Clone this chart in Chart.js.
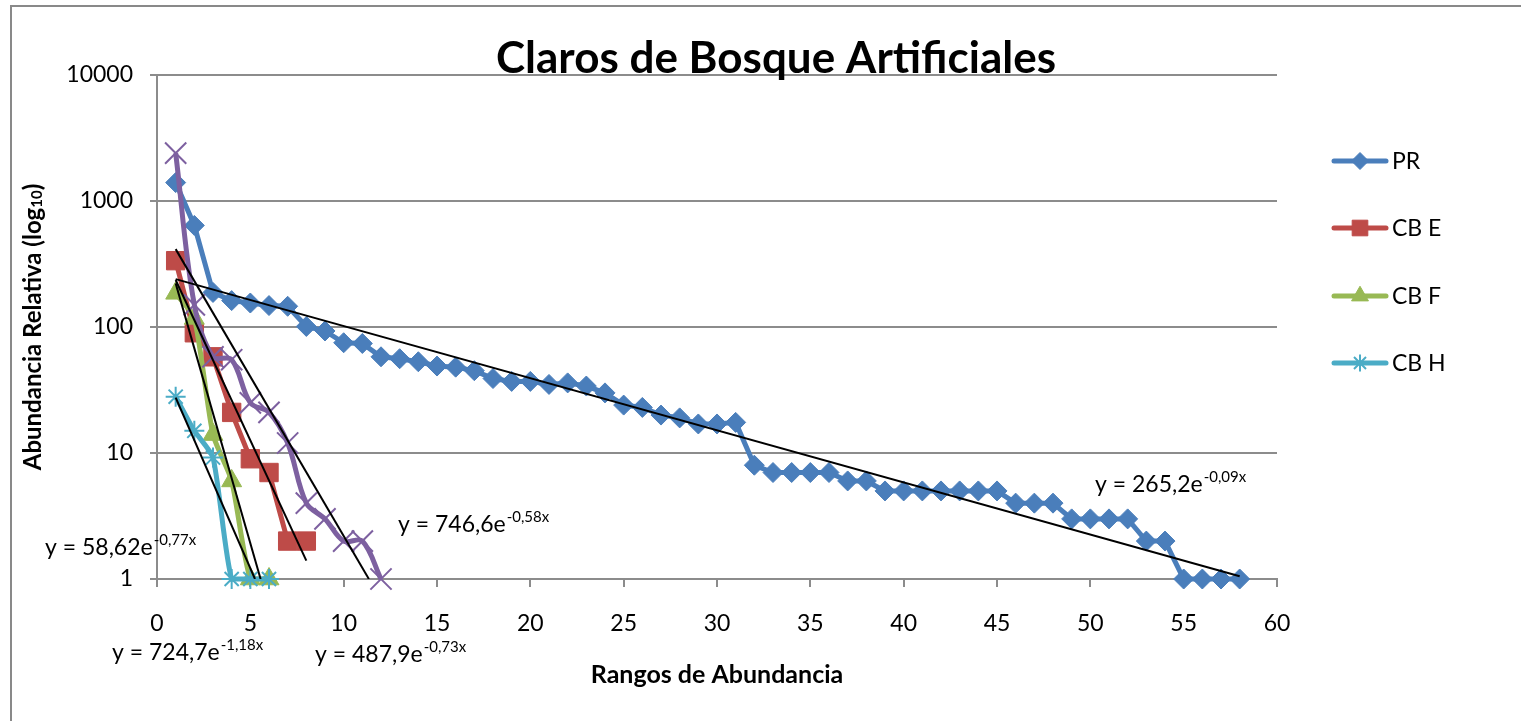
<!DOCTYPE html>
<html>
<head>
<meta charset="utf-8">
<title>Claros de Bosque Artificiales</title>
<script src="https://cdn.jsdelivr.net/npm/chart.js@4.4.1/dist/chart.umd.min.js"></script>
<style>
  html, body { margin: 0; padding: 0; background: #fff; }
</style>
</head>
<body>
<canvas id="chart" width="1521" height="721"></canvas>
<script>
// textos
const titulo = 'Claros de Bosque Artificiales';
const tituloX = 'Rangos de Abundancia';
const tituloY = 'Abundancia Relativa (log';

// ticks
const yTicks = [1, 10, 100, 1000, 10000];

// valores por rango (rango = posicion + 1)
const valoresPR = [1400, 640, 188, 162, 155, 148, 146, 101, 93, 75, 74, 58, 56, 53, 49, 48, 45, 39, 37, 37,
  35, 36, 34, 30, 24, 23, 20, 19, 17, 17, 17.5, 8, 7, 7, 7, 7, 6, 6, 5, 5,
  5, 5, 5, 5, 5, 4, 4, 4, 3, 3, 3, 3, 2, 2, 1, 1, 1, 1];
const valoresCBE = [336, 90, 58, 21, 9, 7, 2, 2];
const valoresCBF = [185, 117, 14, 6, 1, 1];
const valoresCBH = [28, 15, 9.2, 1, 1, 1];
const valoresCBG = [2400, 150, 58, 55, 25, 21, 12, 4, 3, 2, 2, 1];

// lineas de tendencia (extremos)
const tendPRx = [1, 58],   tendPRy = [240, 1.05];
const tendCBEx = [1, 8],   tendCBEy = [236, 1.4];
const tendCBFx = [1, 5.55], tendCBFy = [222, 1];
const tendCBHx = [1, 5.25], tendCBHy = [27.5, 1];
const tendCBGx = [1, 11.35], tendCBGy = [415, 1];

// ecuaciones
const ecuaciones = [
  ['y = 265,2e', '-0,09x'],
  ['y = 746,6e', '-0,58x'],
  ['y = 58,62e', '-0,77x'],
  ['y = 724,7e', '-1,18x'],
  ['y = 487,9e', '-0,73x']
];

const toPoints = vals => vals.map((v, i) => ({ x: i + 1, y: v }));
const toLine = (xs, ys) => xs.map((x, i) => ({ x: x, y: ys[i] }));

const serie = (label, vals, color, style, radius, extra) => Object.assign({
  label: label,
  data: toPoints(vals),
  borderColor: color,
  backgroundColor: color,
  borderWidth: 5,
  pointStyle: style,
  pointRadius: radius,
  pointBorderColor: color,
  pointBackgroundColor: color,
  pointBorderWidth: 1,
  tension: 0,
  clip: false
}, extra || {});

const tendencia = (xs, ys) => ({
  label: 'tendencia',
  data: toLine(xs, ys),
  borderColor: '#000',
  borderWidth: 2,
  pointRadius: 0,
  order: 0
});

const series = [
  serie('PR', valoresPR, '#4A7EBB', 'rectRot', 10, { order: 5 }),
  serie('CB E', valoresCBE, '#BE4B48', 'rect', 13, { order: 4 }),
  serie('CB F', valoresCBF, '#98B954', 'triangle', 11.5, { order: 3, tension: 0.2 }),
  serie('CB H', valoresCBH, '#4BACC6', 'star', 10, { order: 2, pointBorderWidth: 2, tension: 0.2 }),
  serie('CB G', valoresCBG, '#7D60A0', 'crossRot', 15, { order: 1, pointBorderWidth: 2, tension: 0.35 })
];

const leyenda = series.slice(0, 4);

const decor = {
  id: 'decor',
  beforeDraw(chart) {
    const ctx = chart.ctx;
    ctx.save();
    ctx.strokeStyle = '#898989';
    ctx.lineWidth = 2;
    ctx.beginPath();
    ctx.moveTo(1521, 6);
    ctx.lineTo(11, 6);
    ctx.lineTo(11, 721);
    ctx.stroke();
    ctx.restore();
  },
  afterDraw(chart) {
    const ctx = chart.ctx;
    const ca = chart.chartArea;
    ctx.save();
    ctx.fillStyle = '#000';

    // titulo
    ctx.font = 'bold 44px Lato';
    ctx.textAlign = 'center';
    ctx.textBaseline = 'alphabetic';
    ctx.fillText(titulo, 776, 73);

    // titulo eje x
    ctx.font = 'bold 25px Lato';
    ctx.textBaseline = 'middle';
    ctx.fillText(tituloX, (ca.left + ca.right) / 2, 675);

    // titulo eje y con subindice
    ctx.save();
    ctx.translate(33, (ca.top + ca.bottom) / 2);
    ctx.rotate(-Math.PI / 2);
    ctx.textAlign = 'left';
    ctx.font = 'bold 24px Lato';
    const w1 = ctx.measureText(tituloY).width;
    ctx.font = 'bold 15px Lato';
    const w2 = ctx.measureText('10').width;
    ctx.font = 'bold 24px Lato';
    const w3 = ctx.measureText(')').width;
    let x0 = -(w1 + w2 + w3) / 2;
    ctx.fillText(tituloY, x0, 0);
    ctx.font = 'bold 15px Lato';
    ctx.fillText('10', x0 + w1, 4);
    ctx.font = 'bold 24px Lato';
    ctx.fillText(')', x0 + w1 + w2, 0);
    ctx.restore();

    // ecuaciones
    const pos = [[1095, 492], [398, 532], [45, 555], [112, 660], [315, 662]];
    ctx.textAlign = 'left';
    ctx.textBaseline = 'alphabetic';
    ecuaciones.forEach((e, i) => {
      ctx.font = '23px Lato';
      ctx.fillText(e[0], pos[i][0], pos[i][1]);
      const w = ctx.measureText(e[0]).width;
      ctx.font = '15px Lato';
      ctx.fillText(e[1], pos[i][0] + w + 1, pos[i][1] - 10);
    });

    // leyenda
    const ly = [161, 228, 296, 363];
    leyenda.forEach((s, i) => {
      ctx.strokeStyle = s.borderColor;
      ctx.fillStyle = s.pointBackgroundColor;
      ctx.lineWidth = 5;
      ctx.lineCap = 'round';
      ctx.beginPath();
      ctx.moveTo(1334, ly[i]);
      ctx.lineTo(1386, ly[i]);
      ctx.stroke();
      ctx.lineCap = 'butt';
      ctx.lineWidth = s.pointBorderWidth;
      Chart.helpers.drawPoint(ctx, {
        pointStyle: s.pointStyle,
        radius: s.pointRadius * 0.85,
        borderWidth: s.pointBorderWidth,
        rotation: 0
      }, 1360, ly[i]);
      ctx.fillStyle = '#000';
      ctx.font = '23px Lato';
      ctx.textBaseline = 'middle';
      ctx.fillText(s.label, 1392, ly[i] + 1);
    });
    ctx.restore();
  }
};

new Chart(document.getElementById('chart'), {
  type: 'line',
  data: {
    datasets: [
      tendencia(tendPRx, tendPRy),
      tendencia(tendCBEx, tendCBEy),
      tendencia(tendCBFx, tendCBFy),
      tendencia(tendCBHx, tendCBHy),
      tendencia(tendCBGx, tendCBGy)
    ].concat(series)
  },
  options: {
    responsive: false,
    animation: false,
    devicePixelRatio: 1,
    layout: { padding: { top: 75, right: 244, left: 0, bottom: 0 } },
    plugins: {
      legend: { display: false },
      title: { display: false },
      tooltip: { enabled: false }
    },
    scales: {
      x: {
        type: 'linear',
        min: 0,
        max: 60,
        ticks: { stepSize: 5, padding: 23, maxRotation: 0, color: '#000', font: { family: 'Lato', size: 23 } },
        grid: { drawOnChartArea: false, drawTicks: true, tickLength: 8, color: '#8c8c8c', lineWidth: 2 },
        border: { color: '#8c8c8c', width: 2 },
        afterFit(s) { s.height = 142; }
      },
      y: {
        type: 'logarithmic',
        min: 1,
        max: 10000,
        afterBuildTicks(s) { s.ticks = yTicks.map(v => ({ value: v })); },
        ticks: { callback: v => String(v), padding: 17, color: '#000', font: { family: 'Lato', size: 23 } },
        grid: { color: '#8c8c8c', lineWidth: 2, tickLength: 7 },
        border: { color: '#8c8c8c', width: 2 },
        afterFit(s) { s.width = 157; }
      }
    }
  },
  plugins: [decor]
});
</script>
</body>
</html>
